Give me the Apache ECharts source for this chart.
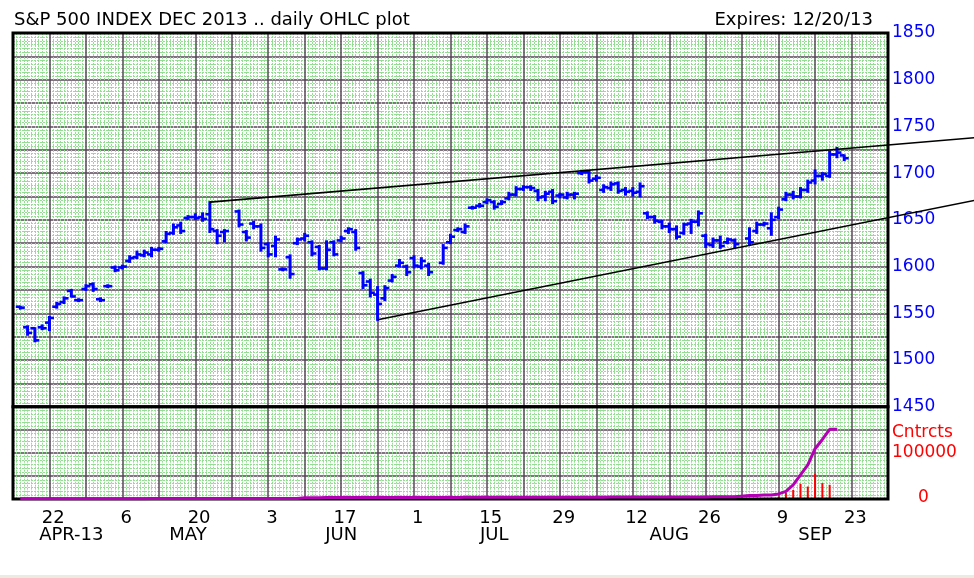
<!DOCTYPE html>
<html><head><meta charset="utf-8">
<script src="https://cdn.jsdelivr.net/npm/echarts@6/dist/echarts.min.js"></script>
<style>html,body{margin:0;padding:0;background:#ecebe1}#c{width:974px;height:575px;background:#fff}</style>
</head><body><div id="c"></div><script>
// ---- calendar slots (weekdays, Fri 2013-04-12 .. Fri 2013-09-27) ----
const dates = [];
for (let d = new Date(Date.UTC(2013, 3, 12)); d.getTime() <= Date.UTC(2013, 8, 27); d.setUTCDate(d.getUTCDate() + 1)) {
  const w = d.getUTCDay();
  if (w > 0 && w < 6) dates.push(d.toISOString().slice(0, 10));
}
// ---- tick labels ----
const dayLabelDates = ['2013-04-22','2013-05-06','2013-05-20','2013-06-03','2013-06-17','2013-07-01',
  '2013-07-15','2013-07-29','2013-08-12','2013-08-26','2013-09-09','2013-09-23'];
const monthLabelDates = ['2013-04-24','2013-05-16','2013-06-14','2013-07-15','2013-08-16','2013-09-13'];
const monthLabelText = ['APR-13','MAY','JUN','JUL','AUG','SEP'];
const priceLabels = [1450,1500,1550,1600,1650,1700,1750,1800,1850];

// ---- daily OHLC [open, high, low, close], one per slot ----
const ohlc = [
 null,
 [1557,1557,1555,1556],[1535,1536,1527,1529],[1534,1534,1520,1521],[1535,1537,1533,1534],[1540,1546,1532,1545],
 [1557,1561,1556,1560],[1562,1567,1561,1566],[1574,1575,1568,1568],[1564,1565,1563,1564],[1576,1580,1575,1579],
 [1581,1582,1574,1576],[1565,1566,1563,1564],[1579,1580,1578,1579],[1599,1600,1595,1596],[1599,1601,1598,1600],
 [1606,1611,1605,1609],[1610,1616,1609,1613],[1612,1617,1611,1615],[1613,1620,1611,1618],[1618,1620,1617,1619],
 [1627,1637,1626,1635],[1636,1645,1635,1642],[1644,1647,1636,1638],[1652,1654,1651,1653],[1653,1656,1651,1652],
 [1653,1657,1649,1651],[1656,1669,1637,1640],[1638,1639,1625,1633],[1637,1639,1627,1638],null,
 [1659,1660,1643,1645],[1637,1638,1628,1631],[1646,1648,1641,1643],[1643,1645,1617,1620],[1624,1625,1611,1613],
 [1622,1632,1611,1629],[1597,1598,1596,1597],[1610,1612,1588,1592],[1625,1630,1624,1629],[1630,1635,1628,1633],
 [1626,1627,1612,1614],[1621,1622,1597,1598],[1598,1627,1597,1618],[1626,1627,1612,1613],[1628,1632,1627,1630],
 [1638,1641,1636,1640],[1637,1639,1618,1620],[1593,1594,1577,1580],[1584,1586,1568,1572],[1570,1578,1543,1560],
 [1566,1579,1564,1577],[1585,1591,1584,1589],[1601,1607,1600,1604],[1600,1601,1591,1594],[1609,1611,1599,1601],
 [1600,1609,1598,1606],[1601,1603,1591,1594],null,[1604,1623,1603,1620],[1626,1634,1625,1632],
 [1639,1641,1638,1640],[1637,1645,1636,1643],[1663,1664,1662,1663],[1665,1667,1664,1665],[1669,1672,1668,1671],
 [1669,1670,1662,1664],[1667,1670,1667,1669],[1673,1679,1672,1677],[1677,1685,1676,1683],[1683,1686,1682,1685],
 [1685,1686,1682,1684],[1681,1682,1671,1674],[1675,1680,1671,1678],[1680,1682,1668,1670],[1676,1678,1674,1677],
 [1674,1679,1673,1677],[1677,1679,1673,1678],[1700,1702,1699,1701],[1701,1702,1690,1692],[1694,1697,1692,1695],
 [1682,1687,1680,1685],[1684,1690,1682,1688],[1689,1690,1679,1681],[1682,1684,1677,1680],[1681,1684,1676,1679],
 [1680,1689,1675,1686],[1657,1658,1652,1653],[1653,1654,1647,1649],[1648,1649,1641,1643],[1643,1646,1637,1640],
 [1640,1643,1630,1632],[1636,1646,1635,1645],[1646,1650,1636,1648],[1648,1659,1644,1657],[1633,1634,1621,1624],
 [1623,1630,1621,1628],[1628,1632,1620,1622],[1626,1630,1625,1629],[1628,1629,1621,1624],null,
 [1630,1641,1624,1626],[1638,1647,1636,1645],[1645,1647,1644,1646],[1641,1657,1634,1650],[1653,1663,1652,1661],
 [1672,1679,1671,1677],[1677,1680,1673,1675],[1675,1684,1674,1682],[1682,1692,1680,1690],[1692,1703,1689,1697],
 [1697,1700,1693,1699],[1697,1723,1696,1720],[1720,1727,1717,1722],[1719,1719,1714,1716]
];

// ---- open interest (contracts), one per slot ----
const openInterest = [
 null,
 500,500,520,540,560,580,600,620,640,660,
 680,700,700,720,740,760,780,800,820,840,
 860,880,900,920,940,960,980,1000,1000,null,
 1020,1040,1060,1080,1100,1150,1200,1250,1300,2800,
 2900,2950,3000,3000,3050,3100,3100,3150,3200,3200,
 3250,3300,3300,3350,3400,3400,3450,null,3450,3500,
 3500,3550,3600,3600,3650,3650,3700,3700,3750,3750,
 3800,3800,3850,3900,3900,3950,3950,4000,4000,4050,
 4050,4100,4100,4150,4200,4200,4250,4300,4300,4350,
 4400,4450,4500,4550,4600,4700,4800,4900,5000,null,
 7400,7600,8800,8800,11000,16500,30500,52500,74000,109000,
 129000,151000,151000
];
// ---- daily volume [slot, contracts] ----
const volume = [
 [73,1500],[85,1200],[88,1500],[89,1000],[94,1200],[96,1500],[102,2500],[104,3000],[105,5000],
 [106,13800],[107,19700],[108,32900],[109,27000],[110,54800],[111,34400],[112,30700],[113,1500]
];
// ---- trend lines [slot1, price1, slot2, price2] ----
const upperTrend = [27, 1669, 132, 1738];
const lowerTrend = [50, 1543, 132, 1671];

// ---------------------------------------------------------------
const FONT = 'DejaVu Sans';
const DARK = '#564656';
const GREEN = '#94de94';
const BLUE = '#0000ff';

const ohlcData = [];
ohlc.forEach((r, i) => { if (r) ohlcData.push([i, r[0], r[1], r[2], r[3]]); });
const oiData = dates.map((d, i) => (i < openInterest.length ? openInterest[i] : null));
const daySet = new Set(dayLabelDates);
const monthMap = {};
monthLabelDates.forEach((d, i) => { monthMap[d] = monthLabelText[i]; });

function renderOHLC(params, api) {
  const x = api.value(0);
  const pO = api.coord([x, api.value(1)]);
  const pH = api.coord([x, api.value(2)]);
  const pL = api.coord([x, api.value(3)]);
  const pC = api.coord([x, api.value(4)]);
  const t = 4.5;
  return {
    type: 'group',
    children: [
      { type: 'line', shape: { x1: pH[0], y1: pH[1] - 1, x2: pL[0], y2: pL[1] + 1 }, style: { stroke: BLUE, lineWidth: 3 } },
      { type: 'line', shape: { x1: pO[0] - t, y1: pO[1], x2: pO[0], y2: pO[1] }, style: { stroke: BLUE, lineWidth: 2.6 } },
      { type: 'line', shape: { x1: pC[0], y1: pC[1], x2: pC[0] + t, y2: pC[1] }, style: { stroke: BLUE, lineWidth: 2.6 } }
    ]
  };
}
function renderTrend(params, api) {
  const a = api.coord([api.value(0), api.value(1)]);
  const b = api.coord([api.value(2), api.value(3)]);
  return { type: 'line', shape: { x1: a[0], y1: a[1], x2: b[0], y2: b[1] }, style: { stroke: '#000', lineWidth: 1.6 } };
}
function renderFrame(params) {
  const cs = params.coordSys;
  return { type: 'rect', shape: { x: cs.x, y: cs.y, width: cs.width, height: cs.height },
    style: { fill: 'none', stroke: '#000', lineWidth: 3 } };
}

const gridValueX = (gi) => ({
  type: 'value', gridIndex: gi, min: 0, max: 120, interval: 5,
  axisLine: { show: false }, axisTick: { show: false }, axisLabel: { show: false },
  splitLine: { show: true, showMinLine: false, showMaxLine: false, lineStyle: { color: DARK, width: 1.5 } },
  minorTick: { show: false, splitNumber: 10 },
  minorSplitLine: { show: true, lineStyle: { color: GREEN, width: 1, type: [2, 1] } }
});

const option = {
  animation: false,
  backgroundColor: '#fff',
  textStyle: { fontFamily: FONT },
  title: [
    { text: 'S&P 500 INDEX DEC 2013 .. daily OHLC plot', left: 14, top: 11, padding: 0,
      textStyle: { fontFamily: FONT, fontSize: 18, fontWeight: 'normal', color: '#000' } },
    { text: 'Expires: 12/20/13', right: 101, top: 11, padding: 0,
      textStyle: { fontFamily: FONT, fontSize: 18, fontWeight: 'normal', color: '#000' } }
  ],
  grid: [
    { left: 13, right: 86, top: 33, height: 373.7, show: true, borderWidth: 0, backgroundColor: '#fff' },
    { left: 13, right: 86, top: 406.7, height: 92.3, show: true, borderWidth: 0, backgroundColor: '#fff' }
  ],
  xAxis: [
    { type: 'category', gridIndex: 0, data: dates, boundaryGap: false,
      axisLine: { show: false }, axisTick: { show: false }, axisLabel: { show: false }, splitLine: { show: false } },
    gridValueX(0),
    { type: 'category', gridIndex: 1, data: dates, boundaryGap: false,
      axisLine: { show: false }, axisTick: { show: false }, splitLine: { show: false },
      axisLabel: { interval: (i, v) => daySet.has(v), formatter: v => String(+v.slice(8)),
        margin: 10, fontSize: 18, fontFamily: FONT, color: '#000', padding: [0, 7, 0, 0] } },
    { type: 'category', gridIndex: 1, data: dates, boundaryGap: false, position: 'bottom', offset: 17,
      axisLine: { show: false }, axisTick: { show: false }, splitLine: { show: false },
      axisLabel: { interval: (i, v) => v in monthMap, formatter: v => monthMap[v] || '',
        margin: 10, fontSize: 18, fontFamily: FONT, color: '#000' } },
    gridValueX(1)
  ],
  yAxis: [
    { type: 'value', gridIndex: 0, position: 'right', min: 1450, max: 1850, interval: 25,
      axisLine: { show: false }, axisTick: { show: false },
      axisLabel: { formatter: v => (priceLabels.indexOf(v) >= 0 ? String(v) : ''), color: BLUE, fontSize: 17, fontFamily: FONT, margin: 4 },
      splitLine: { show: true, showMinLine: false, showMaxLine: false, lineStyle: { color: DARK, width: 1.5 } },
      minorTick: { show: false, splitNumber: 6 },
      minorSplitLine: { show: true, lineStyle: { color: GREEN, width: 1, type: [2, 1] } } },
    { type: 'value', gridIndex: 1, position: 'right', min: 0, max: 200000, interval: 50000,
      axisLine: { show: false }, axisTick: { show: false }, axisLabel: { show: false },
      splitLine: { show: true, showMinLine: false, showMaxLine: false, lineStyle: { color: DARK, width: 1.5 } },
      minorTick: { show: false, splitNumber: 6 },
      minorSplitLine: { show: true, lineStyle: { color: GREEN, width: 1, type: [2, 1] } } },
    { type: 'value', gridIndex: 1, position: 'right', min: 0, max: 200000, interval: 5000,
      axisLine: { show: false }, axisTick: { show: false }, splitLine: { show: false },
      axisLabel: { color: '#ff0000', fontSize: 17, fontFamily: FONT, margin: 4,
        formatter: v => v === 145000 ? 'Cntrcts' : v === 100000 ? '100000' : v === 0 ? '{z|0}' : '',
        rich: { z: { color: '#ff0000', fontSize: 17, fontFamily: FONT, padding: [0, 0, 3, 26] } } } }
  ],
  series: [
    { type: 'bar', xAxisIndex: 2, yAxisIndex: 1, data: volume, barWidth: 2, itemStyle: { color: '#ff0000' }, z: 3 },
    { type: 'custom', xAxisIndex: 0, yAxisIndex: 0, data: [[0, 1450]], renderItem: renderFrame, z: 7, silent: true },
    { type: 'custom', xAxisIndex: 2, yAxisIndex: 1, data: [[0, 0]], renderItem: renderFrame, z: 7, silent: true },
    { type: 'line', xAxisIndex: 2, yAxisIndex: 1, data: oiData, connectNulls: true, symbol: 'none',
      lineStyle: { color: '#b400b4', width: 3 }, z: 8 },
    { type: 'custom', xAxisIndex: 0, yAxisIndex: 0, data: ohlcData, encode: { x: 0, y: [1, 2, 3, 4] },
      renderItem: renderOHLC, z: 5 },
    { type: 'custom', xAxisIndex: 1, yAxisIndex: 0, data: [upperTrend, lowerTrend], encode: { x: [0, 2], y: [1, 3] },
      renderItem: renderTrend, clip: false, z: 6 }
  ]
};
const chart = echarts.init(document.getElementById('c'), null, { renderer: 'canvas' });
chart.setOption(option);
</script></body></html>
